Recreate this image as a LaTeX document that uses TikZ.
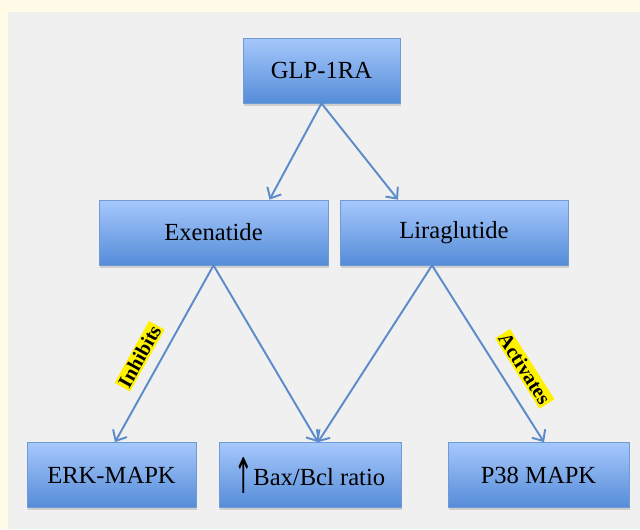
\documentclass[tikz,border=0pt]{standalone}
\usepackage{fontspec}
\setmainfont{Liberation Serif}
\newfontfamily\arrowfont{DejaVu Sans}
\usetikzlibrary{calc,arrows.meta,shadows}
\definecolor{cream}{HTML}{FFFBE6}
\definecolor{panel}{HTML}{F0F0F0}
\definecolor{boxtop}{HTML}{A6C8FC}
\definecolor{boxbot}{HTML}{558CD8}
\definecolor{boxline}{HTML}{6E9BD6}
\definecolor{arrowblue}{HTML}{5B8BCB}

\tikzset{
	box/.style={draw=boxline, line width=0.4pt, top color=boxtop, bottom color=boxbot, minimum height=1.3cm, inner sep=0pt, font=\fontsize{14}{16}\selectfont, drop shadow={shadow xshift=0.8pt, shadow yshift=-1.6pt, opacity=0.3}},
	link/.style={draw=arrowblue, line width=1.1pt, -{Straight Barb[length=5pt,width=9pt]}},
	lbl/.style={fill=yellow, inner sep=1pt, font=\fontsize{11.5}{13}\selectfont\bfseries}
}

\begin{document}
\begin{tikzpicture}[x=0.02cm,y=-0.02cm]
		%Background
		\fill[cream] (0,0) rectangle (640,529);
		\fill[panel] (8,12) rectangle (640,529);
		%Boxes
		\node[box, minimum width=3.14cm] (glp) at (321.5,70.5) {GLP-1RA};
		\node[box, minimum width=4.58cm] (exen) at (213.5,232.5) {Exenatide};
		\node[box, minimum width=4.56cm] (lira) at (454,232.5) {Liraglutide};
		\node[box, minimum width=3.38cm] (erk) at (111.5,475) {ERK-MAPK};
		\node[box, minimum width=3.64cm] (bax) at (310,475) {\raisebox{-4pt}{\scalebox{0.9}[2.0]{\arrowfont ↑}}Bax/Bcl ratio};
		\node[box, minimum width=3.62cm] (ptt) at (538.5,475) {P38 MAPK};
		%Arrows
		\draw[link] (glp.south) -- ($(exen.north)+(56,0)$);
		\draw[link] (glp.south) -- ($(lira.north)+(-56,0)$);
		\draw[link] (exen.south) -- node[lbl, sloped, above=6pt, pos=0.57] {Inhibits} ($(erk.north)+(3.5,0)$);
		\draw[link] (exen.south) -- ($(bax.north)+(8,0)$);
		\draw[link] ($(lira.south)+(-22,0)$) -- ($(bax.north)+(8,0)$);
		\draw[link] ($(lira.south)+(-22,0)$) -- node[lbl, sloped, above=7.5pt, pos=0.655] {Activates} ($(ptt.north)+(5.5,0)$);
\end{tikzpicture}
\end{document}
